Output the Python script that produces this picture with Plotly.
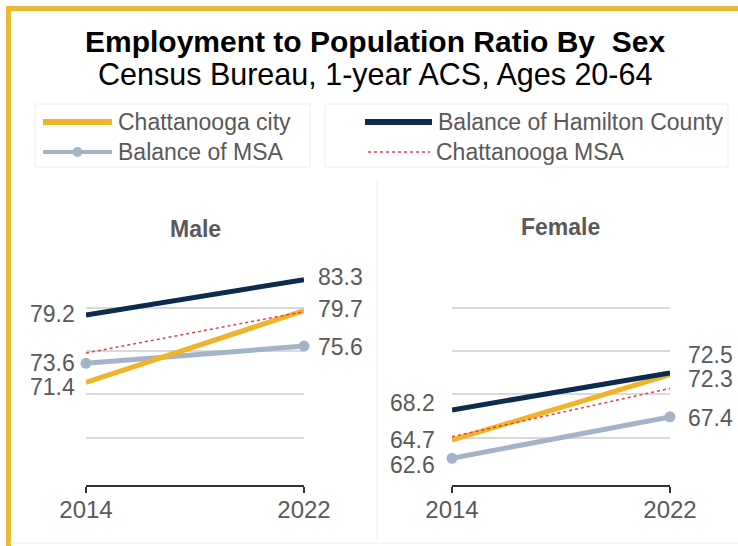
import plotly.graph_objects as go

# ---- data ----
years = [2014, 2022]
panels = ["Male", "Female"]
series = ["Balance of MSA", "Chattanooga city", "Balance of Hamilton County", "Chattanooga MSA"]

male_balance_msa = [73.6, 75.6]
male_city = [71.4, 79.7]
male_hamilton = [79.2, 83.3]
male_msa = [74.8, 79.6]

female_balance_msa = [62.6, 67.4]
female_city = [64.7, 72.3]
female_hamilton = [68.2, 72.5]
female_msa = [65.1, 70.7]

values = {
    "Male": [male_balance_msa, male_city, male_hamilton, male_msa],
    "Female": [female_balance_msa, female_city, female_hamilton, female_msa],
}

# ---- styles ----
GOLD = "#F0B32A"
NAVY = "#0D2A4F"
STEEL = "#A4B4C8"
RED = "#E0404A"
TXT = "#595959"
FONT = "Liberation Sans, Arial, sans-serif"

styles = {
    "Balance of MSA": dict(color=STEEL, width=5, dash="solid", marker=True),
    "Chattanooga city": dict(color=GOLD, width=5, dash="solid", marker=False),
    "Balance of Hamilton County": dict(color=NAVY, width=5, dash="solid", marker=False),
    "Chattanooga MSA": dict(color=RED, width=1.5, dash="dot", marker=False),
}
labelled = ["Balance of MSA", "Chattanooga city", "Balance of Hamilton County"]

# vertical nudges (px) for the end labels so they don't collide
label_nudge = {
    "Male": {"Balance of MSA": (0, -1), "Chattanooga city": (-5, 2),
             "Balance of Hamilton County": (1, 3)},
    "Female": {"Balance of MSA": (-7, -1), "Chattanooga city": (0, -4),
               "Balance of Hamilton County": (7, 18)},
}
label_xshift = {"Male": (-9, 12), "Female": (-15, 16)}

W, H = 738, 546


def px(x):
    return x / W


def py(y):
    return 1 - y / H


x_domains = {"Male": [px(86), px(304)], "Female": [px(452), px(670)]}
y_domain = [py(485), py(265)]

fig = go.Figure()

for i, panel in enumerate(panels):
    ax = "" if i == 0 else str(i + 1)
    for name, vals in zip(series, values[panel]):
        st = styles[name]
        fig.add_trace(go.Scatter(
            x=years, y=vals, name=name, showlegend=False,
            mode="lines+markers" if st["marker"] else "lines",
            line=dict(color=st["color"], width=st["width"], dash=st["dash"]),
            marker=dict(size=11, color=st["color"]),
            cliponaxis=False, hoverinfo="skip",
            xaxis="x" + ax, yaxis="y" + ax,
        ))
        if name in labelled:
            left_dy, right_dy = label_nudge[panel][name]
            lx, rx = label_xshift[panel]
            for yr, v, dy, xs, anchor in [(years[0], vals[0], left_dy, lx, "right"),
                                          (years[1], vals[1], right_dy, rx, "left")]:
                fig.add_annotation(
                    x=yr, y=v, xref="x" + ax, yref="y" + ax,
                    text=f"{v:.1f}", showarrow=False,
                    xanchor=anchor, yanchor="middle", xshift=xs, yshift=dy,
                    font=dict(family=FONT, size=23, color=TXT),
                )

    axis_common_x = dict(
        domain=x_domains[panel], range=[years[0], years[1]],
        tickvals=years, ticktext=[str(y) for y in years],
        ticks="outside", ticklen=6, tickwidth=1.5, tickcolor="#333333",
        showline=True, linecolor="#333333", linewidth=1.5,
        showgrid=False, zeroline=False, fixedrange=True, automargin=False,
        ticklabelstandoff=-4,
        tickfont=dict(family=FONT, size=24, color=TXT),
        anchor="y" + ax,
    )
    axis_common_y = dict(
        domain=y_domain, range=[59.5, 85],
        tickvals=[65, 70, 75, 80, 85], showticklabels=False,
        showgrid=True, gridcolor="#D9D9D9", gridwidth=1.5,
        zeroline=False, showline=False, ticks="", fixedrange=True, automargin=False,
        anchor="x" + ax,
    )
    fig.update_layout(**{"xaxis" + ax: axis_common_x, "yaxis" + ax: axis_common_y})


def paper_text(x, y, text, size, color, xanchor="center"):
    fig.add_annotation(x=px(x), y=py(y), xref="paper", yref="paper", text=text,
                       showarrow=False, xanchor=xanchor, yanchor="middle",
                       font=dict(family=FONT, size=size, color=color))


# ---- panel titles ----
paper_text(195, 229, "<b>Male</b>", 23, TXT)
paper_text(560, 227, "<b>Female</b>", 23, TXT)

# ---- title ----
paper_text(375, 42, "<b>Employment to Population Ratio By  Sex</b>", 30, "#000000")
paper_text(375, 75, "Census Bureau, 1-year ACS, Ages 20-64", 30.5, "#000000")

shapes = []
# frame: gold rule along top and left edges
shapes.append(dict(type="line", xref="paper", yref="paper", x0=px(6), x1=1, y0=py(8.5), y1=py(8.5),
                   line=dict(color="#EDB934", width=5)))
shapes.append(dict(type="line", xref="paper", yref="paper", x0=px(8.5), x1=px(8.5), y0=py(6), y1=0,
                   line=dict(color="#EDB934", width=5)))
# faint panel separators
shapes.append(dict(type="line", xref="paper", yref="paper", x0=px(377), x1=px(377), y0=py(180), y1=py(541),
                   line=dict(color="#EEEEEE", width=1)))
shapes.append(dict(type="line", xref="paper", yref="paper", x0=px(10), x1=1, y0=py(543), y1=py(543),
                   line=dict(color="#F3EDE0", width=1)))
# legend boxes
for x0, x1 in [(35, 310), (325, 728)]:
    shapes.append(dict(type="rect", xref="paper", yref="paper", x0=px(x0), x1=px(x1),
                       y0=py(104), y1=py(167), line=dict(color="#EEEEEE", width=1),
                       fillcolor="rgba(0,0,0,0)"))

# legend entries
legend_pos = {
    "Chattanooga city": (43, 112, 122),
    "Balance of MSA": (43, 112, 152),
    "Balance of Hamilton County": (365, 432, 122),
    "Chattanooga MSA": (368, 430, 152),
}
for name in series:
    st = styles[name]
    x0, x1, yy = legend_pos[name]
    lw = 6 if st["width"] >= 5 else st["width"]
    if name == "Balance of MSA":
        lw = 4
    shapes.append(dict(type="line", xref="paper", yref="paper", x0=px(x0), x1=px(x1),
                       y0=py(yy), y1=py(yy),
                       line=dict(color=st["color"], width=lw, dash=st["dash"])))
    if st["marker"]:
        cx = (x0 + x1) / 2
        shapes.append(dict(type="circle", xref="paper", yref="paper",
                           x0=px(cx - 5), x1=px(cx + 5), y0=py(yy - 5), y1=py(yy + 5),
                           fillcolor=st["color"], line=dict(color=st["color"], width=0)))
    paper_text(x1 + 4, yy, name, 23, TXT, xanchor="left")

fig.update_layout(
    template="none",
    width=W, height=H, margin=dict(l=0, r=0, t=0, b=0, pad=0, autoexpand=False),
    paper_bgcolor="white", plot_bgcolor="white",
    shapes=shapes, showlegend=False,
)

fig.write_html("out.html")
